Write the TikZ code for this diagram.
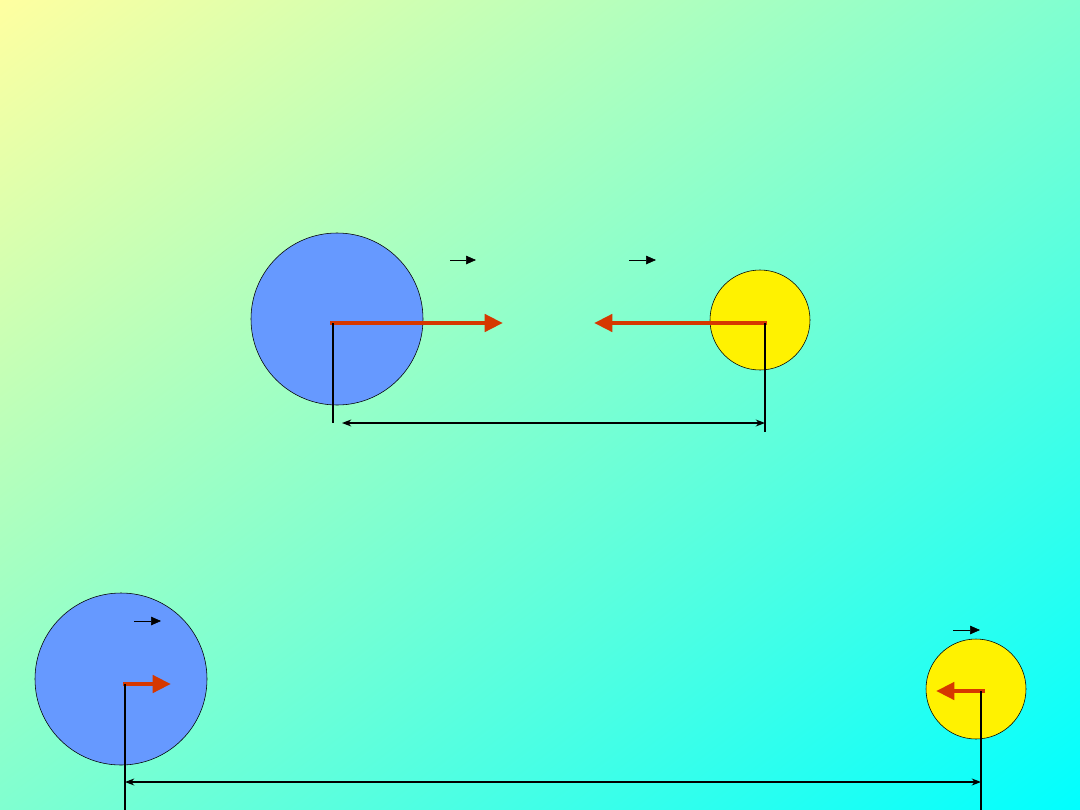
\documentclass[tikz,border=0pt]{standalone}
\usetikzlibrary{arrows.meta,calc,shadings}
\definecolor{bgyellow}{RGB}{255,255,160}
\definecolor{bgmid}{RGB}{128,255,208}
\definecolor{bgcyan}{RGB}{0,255,255}
\definecolor{planetblue}{RGB}{102,153,255}
\definecolor{forcered}{RGB}{214,56,0}
\begin{document}
\begin{tikzpicture}[x=0.025cm,y=-0.025cm,>=Stealth]

    % Styles
    \tikzset{
        bigbody/.style={circle, draw=black, fill=planetblue, minimum size=172*0.025cm, inner sep=0pt},
        smallbody/.style={circle, draw=black, fill=yellow, minimum size=100*0.025cm, inner sep=0pt},
        force/.style={forcered, line width=3.5pt, -{Triangle[length=13pt,width=12pt]}},
        vec/.style={black, line width=0.4pt, -{Triangle[length=7pt,width=6pt]}},
        guide/.style={black, line width=0.8pt},
        span/.style={black, line width=0.8pt, <->}
    }

    % Background
    \shade[upper left=bgyellow, upper right=bgmid, lower left=bgmid, lower right=bgcyan]
        (0,0) rectangle (1080,810);
    \useasboundingbox (0,0) rectangle (1080,810);

    % Top pair
    \node[bigbody] (M1) at (337,319) {};
    \node[smallbody] (m1) at (760,320) {};
    \coordinate (F1s) at (330,323);  \coordinate (F1e) at (503,323);
    \coordinate (f1s) at (767,323);  \coordinate (f1e) at (594,323);
    \draw[force] (F1s) -- (F1e);
    \draw[force] (f1s) -- (f1e);
    \coordinate (g1a) at (333,323);  \coordinate (g1b) at (333,423);
    \coordinate (g2a) at (765,323);  \coordinate (g2b) at (765,432);
    \draw[guide] (g1a) -- (g1b);
    \draw[guide] (g2a) -- (g2b);
    \coordinate (d1a) at (342,423);  \coordinate (d1b) at (765,423);
    \draw[span] (d1a) -- (d1b);
    \draw[vec] (450,260) -- (476,260);
    \draw[vec] (629,260) -- (656,260);

    % Bottom pair
    \node[bigbody] (M2) at (121,679) {};
    \node[smallbody] (m2) at (976,689) {};
    \coordinate (F2s) at (123,684);  \coordinate (F2e) at (171,684);
    \coordinate (f2s) at (985,691);  \coordinate (f2e) at (936,691);
    \draw[force] (F2s) -- (F2e);
    \draw[force] (f2s) -- (f2e);
    \coordinate (g3a) at (125,684);  \coordinate (g3b) at (125,810);
    \coordinate (g4a) at (981,691);  \coordinate (g4b) at (981,810);
    \draw[guide] (g3a) -- (g3b);
    \draw[guide] (g4a) -- (g4b);
    \coordinate (d2a) at (125,782);  \coordinate (d2b) at (981,782);
    \draw[span] (d2a) -- (d2b);
    \draw[vec] (134,621) -- (161,621);
    \draw[vec] (953,630) -- (980,630);

\end{tikzpicture}
\end{document}
